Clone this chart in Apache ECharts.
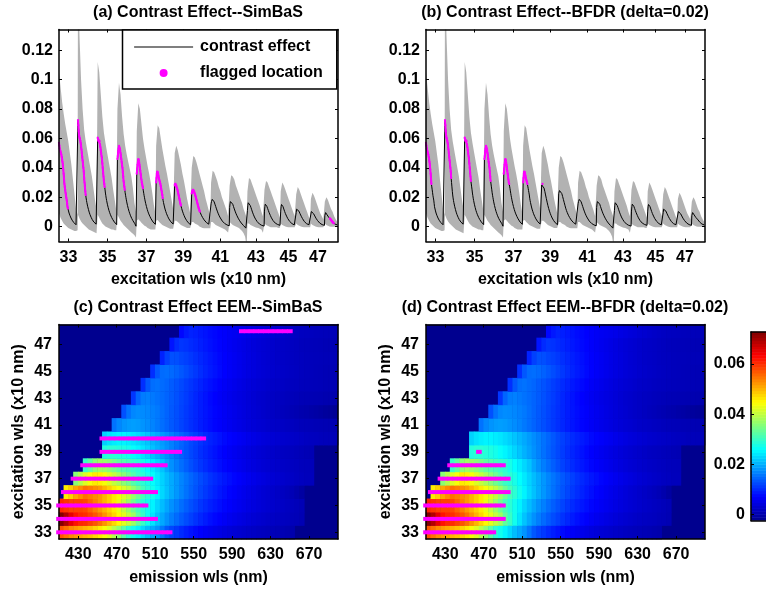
<!DOCTYPE html>
<html><head><meta charset="utf-8">
<style>html,body{margin:0;padding:0;background:#fff;overflow:hidden}#c{width:766px;height:589px}</style>
<script src="https://cdn.jsdelivr.net/npm/echarts@6/dist/echarts.min.js"></script>
</head><body><div id="c"></div>
<script>
// Excitation rows (x10 nm) and first emission wavelength of each row (nm); samples are 5 nm apart.
const excitation=[33,34,35,36,37,38,39,40,41,42,43,44,45,46,47,48];
const rowStartNm=[410,410,410,415,425,435,455,455,465,475,485,495,505,515,525,535];
// Contrast effect per row
const row33=[.057,.055,.053,.052,.051,.05,.049,.0475,.046,.044,.042,.039,.036,.0325,.029,.027,.025,.023,.021,.0195,.018,.0158,.0135,.0122,.0112,.0102,.0092,.0084,.0077,.007,.0064,.0058,.0053,.0048,.0043,.0039,.0035,.0031,.0028,.0025,.0022,.0019,.0016,.0014,.0012,.001,.0008,.0005,.0002];
const row34=[.0725,.069,.065,.062,.0605,.06,.0585,.057,.055,.0525,.05,.0475,.045,.0425,.04,.0375,.033,.03,.027,.024,.0215,.0195,.0178,.0163,.015,.0138,.0127,.0117,.0107,.0098,.009,.0082,.0075,.0069,.0063,.0057,.0052,.0047,.0043,.0039,.0035,.0031,.0028,.0025,.0022,.002,.0018,.0016,.0013,.0011,.0008];
const row35=[.0605,.0595,.0585,.0585,.0585,.058,.056,.054,.052,.05,.048,.046,.043,.04,.037,.034,.031,.029,.027,.025,.0228,.021,.0193,.0178,.0165,.0152,.014,.013,.012,.011,.0102,.0094,.0087,.008,.0074,.0068,.0062,.0057,.0052,.0047,.0043,.0039,.0035,.0031,.0028,.0025,.0022,.0019,.0016,.0013,.001];
const row36=[.046,.048,.051,.053,.055,.054,.053,.052,.05,.048,.046,.044,.042,.04,.037,.034,.031,.029,.027,.025,.023,.0213,.0197,.0182,.0168,.0155,.0143,.0132,.0122,.0112,.0103,.0095,.0087,.008,.0073,.0067,.0061,.0055,.005,.0045,.004,.0035,.0031,.0027,.0023,.0019,.0015,.001,.0002,-.0007];
const row37=[.036,.039,.042,.044,.046,.0455,.044,.042,.04,.038,.036,.034,.032,.03,.029,.0275,.026,.0243,.0226,.021,.0196,.0182,.0169,.0157,.0146,.0136,.0126,.0117,.0108,.01,.0093,.0086,.008,.0074,.0068,.0062,.0057,.0052,.0047,.0043,.0039,.0035,.0031,.0028,.0025,.0022,.0019,.0017,.0015,.0015];
const row38=[.03,.033,.036,.0374,.037,.036,.0345,.033,.032,.031,.03,.029,.0275,.026,.0245,.023,.0215,.0193,.0178,.0164,.0152,.014,.0129,.0119,.011,.0102,.0094,.0087,.008,.0074,.0068,.0062,.0057,.0052,.0047,.0043,.0039,.0035,.0032,.0029,.0026,.0023,.0021,.0019,.0017,.0015,.0014,.0013];
const row39=[.0283,.029,.029,.0285,.028,.0272,.0262,.0252,.024,.0228,.0215,.0202,.019,.0178,.0166,.0154,.0143,.0133,.0123,.0114,.0105,.0097,.009,.0083,.0076,.007,.0064,.0058,.0053,.0048,.0044,.004,.0036,.0032,.0029,.0026,.0023,.002,.0018,.0016,.0014,.0012,.001,.0008];
const row40=[.0225,.0238,.0245,.025,.025,.0245,.024,.0232,.0224,.0215,.0205,.0195,.0185,.0175,.0165,.0155,.0145,.0135,.0125,.0117,.0109,.0102,.0095,.0089,.0083,.0077,.0072,.0067,.0062,.0058,.0053,.0049,.0045,.0041,.0038,.0035,.0032,.0029,.0027,.0025,.0023,.0021,.0019,.0017,.0016,.0014,.0013,.0012,.0011,.001];
const row41=[.0155,.017,.018,.0185,.0187,.0185,.018,.0175,.0168,.016,.0152,.0144,.0136,.0128,.012,.0112,.0105,.0098,.0091,.0085,.0079,.0073,.0068,.0063,.0058,.0053,.0049,.0045,.0041,.0037,.0034,.0031,.0028,.0025,.0023,.0021,.0019,.0017,.0015,.0013,.0012,.0011,.001,.0009,.0008,.0007,.0006,.0005];
const row42=[.013,.0155,.017,.0175,.0173,.017,.0165,.016,.0152,.0144,.0136,.0128,.012,.0112,.0105,.0098,.0091,.0085,.0079,.0073,.0068,.0062,.0057,.0052,.0047,.0043,.0039,.0035,.0031,.0027,.0024,.0021,.0018,.0015,.0012,.0009,.0006,.0003,.0001,-.0002,-.0005,-.0008,-.0011,-.0014,-.0017,-.002];
const row43=[.011,.0145,.0162,.0165,.016,.0155,.015,.0144,.0137,.013,.0122,.0114,.0106,.0098,.0091,.0084,.0077,.0071,.0065,.006,.0055,.005,.0046,.0042,.0038,.0034,.003,.0027,.0024,.0021,.0019,.0017,.0015,.0013,.0011,.001,.0009,.0008,.0007,.0006,.0005,.0004,.0003,.0003];
const row44=[.0105,.0135,.0152,.0155,.015,.0145,.0138,.0131,.0124,.0116,.0109,.0102,.0095,.0088,.0082,.0076,.007,.0064,.0059,.0054,.0049,.0045,.0041,.0037,.0034,.0031,.0028,.0025,.0023,.0021,.0019,.0017,.0016,.0015,.0014,.0013,.0012,.0011,.001,.0009,.0008,.0008];
const row45=[.0105,.0135,.015,.0152,.0148,.0142,.0135,.0127,.0119,.0111,.0103,.0096,.0089,.0083,.0077,.0071,.0065,.006,.0055,.005,.0046,.0042,.0038,.0035,.0032,.0029,.0026,.0024,.0022,.002,.0018,.0016,.0015,.0014,.0012,.0011,.001,.0009,.0008,.0008];
const row46=[.0095,.0118,.013,.0128,.0122,.0117,.0111,.0105,.0099,.0093,.0087,.0081,.0075,.007,.0065,.006,.0055,.005,.0046,.0042,.0038,.0034,.0031,.0028,.0025,.0023,.0021,.0019,.0017,.0016,.0015,.0014,.0013,.0012,.0011,.0011,.001,.001];
const row47=[.0085,.0102,.011,.0107,.0102,.0097,.0092,.0087,.0082,.0077,.0072,.0067,.0062,.0057,.0053,.0049,.0045,.0041,.0037,.0034,.0031,.0028,.0025,.0023,.0021,.0019,.0017,.0015,.0014,.0013,.0012,.0011,.001,.0009,.0008,.0008];
const row48=[.0075,.0088,.0095,.0092,.0088,.0084,.0079,.0075,.0071,.0067,.0063,.006,.0057,.0055,.0052,.0048,.0045,.0041,.0038,.0034,.0031,.0028,.0025,.0022,.002,.0018,.0017,.0016,.0015,.0014,.0013,.0012,.0011,.001];
// Grey band limits, read at every 4th sample of each row
const upper33=[.105,.095,.085,.077,.07,.064,.058,.05,.042,.032,.022,.012,.008];
const upper34=[.17,.13,.1,.08,.066,.058,.052,.046,.04,.034,.026,.018,.012];
const upper35=[.112,.105,.09,.075,.064,.057,.051,.045,.039,.033,.025,.018,.011];
const upper36=[.08,.098,.09,.075,.063,.055,.049,.044,.039,.034,.026,.016,.01];
const upper37=[.065,.084,.08,.07,.06,.053,.047,.041,.036,.03,.023,.015,.009];
const upper38=[.055,.069,.067,.06,.053,.047,.041,.036,.03,.024,.018,.012];
const upper39=[.05,.055,.052,.047,.042,.036,.031,.025,.019,.014,.009];
const upper40=[.04,.048,.047,.044,.04,.036,.032,.028,.024,.019,.015,.011,.008];
const upper41=[.03,.038,.037,.034,.031,.027,.024,.02,.017,.014,.011,.007];
const upper42=[.028,.035,.034,.032,.028,.025,.022,.019,.016,.012,.009,.006];
const upper43=[.024,.033,.032,.029,.026,.023,.02,.017,.014,.01,.007];
const upper44=[.025,.031,.03,.027,.024,.021,.018,.015,.012,.009,.006];
const upper45=[.024,.03,.028,.025,.022,.019,.016,.013,.01,.007];
const upper46=[.022,.027,.025,.022,.019,.016,.013,.01,.007,.005];
const upper47=[.019,.023,.021,.018,.015,.012,.009,.007,.005];
const upper48=[.017,.02,.018,.015,.012,.01,.007,.005,.003];
const lower33=[.009,.006,.004,.002,.001,0,-.001,-.0015,-.002,-.0025,-.003,-.003,-.0025];
const lower34=[.008,.0055,.0035,.002,.001,0,-.001,-.002,-.0025,-.003,-.0035,-.004,-.0045];
const lower35=[.008,.006,.004,.002,.001,0,-.0005,-.001,-.0015,-.002,-.002,-.0025,-.0025];
const lower36=[.008,.006,.004,.0025,.001,0,-.001,-.002,-.003,-.004,-.005,-.006,-.0075];
const lower37=[.004,.005,.004,.0025,.0015,.0005,0,-.001,-.0015,-.002,-.002,-.002,-.002];
const lower38=[.004,.0045,.003,.002,.001,.0005,0,-.0005,-.001,-.0015,-.0015,-.0015];
const lower39=[.004,.004,.003,.002,.001,.0005,0,-.0005,-.001,-.001,-.001];
const lower40=[.003,.003,.002,.0015,.001,0,-.0005,-.001,-.0012,-.0012,-.0012,-.0012,-.0012];
const lower41=[.003,.003,.002,.001,.0005,0,-.0005,-.001,-.0015,-.002,-.003,-.004];
const lower42=[.003,.002,.001,.0005,0,-.0005,-.001,-.002,-.003,-.0045,-.007,-.014];
const lower43=[.002,.002,.001,.0005,0,-.0005,-.0008,-.001,-.0015,-.002,-.0043];
const lower44=[.002,.001,.0005,0,-.0005,-.0005,-.0005,-.0005,-.0005,-.001,-.0008];
const lower45=[.002,.001,.0005,0,-.0003,-.0005,-.0005,-.0005,-.0005,-.0005];
const lower46=[.002,.001,.0005,0,-.0003,-.0005,-.0005,-.0005,-.0005,-.0005];
const lower47=[.002,.001,.0005,0,-.0003,-.0005,-.0005,-.0005,-.0005];
const lower48=[.002,.001,.0005,0,-.0002,-.0002,-.0002,-.0002,-.0002];
// Flagged sample ranges per row [first,last]; null = none
const flagSimBaS=[[0,23],[0,20],[0,18],[0,19],[0,16],[0,17],[0,16],[0,21],null,null,null,null,null,null,null,[13,23]];
const flagBFDR=[[0,14],[0,16],[0,16],[0,16],[0,14],[0,11],[2,2],null,null,null,null,null,null,null,null,null];
// Tick labels
const excTickLabels=[33,35,37,39,41,43,45,47];
const contrastTicks=[0,.02,.04,.06,.08,.1,.12];
const emissionTicks=[430,470,510,550,590,630,670];
const colorbarTicks=[0,.02,.04,.06];
const titles=['(a) Contrast Effect--SimBaS','(b) Contrast Effect--BFDR (delta=0.02)','(c) Contrast Effect EEM--SimBaS','(d) Contrast Effect EEM--BFDR (delta=0.02)'];
const jet=['#00008f','#0000ff','#007fff','#00ffff','#7fff7f','#ffff00','#ff7f00','#ff0000','#7f0000'];
const climMin=-.0023, climMax=.0727;

const rows=[row33,row34,row35,row36,row37,row38,row39,row40,row41,row42,row43,row44,row45,row46,row47,row48];
const uppers=[upper33,upper34,upper35,upper36,upper37,upper38,upper39,upper40,upper41,upper42,upper43,upper44,upper45,upper46,upper47,upper48];
const lowers=[lower33,lower34,lower35,lower36,lower37,lower38,lower39,lower40,lower41,lower42,lower43,lower44,lower45,lower46,lower47,lower48];
const rowOffset=[];let total=0;rows.forEach(r=>{rowOffset.push(total);total+=r.length;});

const FONT='"Liberation Sans",Arial,sans-serif';
const lineData=[],bandUp=[],bandLow=[];
rows.forEach((r,i)=>{
  r.forEach((v,k)=>lineData.push([rowOffset[i]+k,v]));
  uppers[i].forEach((v,k)=>bandUp.push([rowOffset[i]+4*k,v]));
  lowers[i].forEach((v,k)=>bandLow.push([rowOffset[i]+4*k,v]));
});
const midTick=excTickLabels.map(e=>{const i=excitation.indexOf(e);return rowOffset[i]+rows[i].length/2;});
const tickLabelOf=v=>{const j=midTick.indexOf(v);return j<0?'':String(excTickLabels[j]);};

function flaggedLine(flags){const out=[];flags.forEach((f,i)=>{if(f)for(let k=f[0];k<=f[1];k++)out.push([rowOffset[i]+k,rows[i][k]]);});return out;}
function flaggedTrace(flags){const out=[];flags.forEach((f,i)=>{if(f){for(let k=f[0];k<=f[1];k++)out.push([rowOffset[i]+k,rows[i][k]]);out.push([rowOffset[i]+f[1],null]);}});return out;}
function flaggedEEM(flags){const out=[];flags.forEach((f,i)=>{if(f)for(let k=f[0];k<=f[1];k++)out.push([rowStartNm[i]+5*k,excitation[i]]);});return out;}

const emissionCats=[];for(let nm=410;nm<700;nm+=5)emissionCats.push(nm);
const heatData=[];rows.forEach((r,i)=>r.forEach((v,k)=>{const c=emissionCats.indexOf(rowStartNm[i]+5*k);if(c>=0)heatData.push([c,i,v]);}));
const cbLevels=[];for(let i=0;i<64;i++)cbLevels.push(i);
const cbData=cbLevels.map(i=>[0,i,climMin+(i+.5)*(climMax-climMin)/64]);

const tick={show:true,inside:true,length:3,lineStyle:{color:'#000',width:1}};
const axLine={show:true,onZero:false,lineStyle:{color:'#000',width:1.5}};
const lab={fontFamily:FONT,fontWeight:'bold',fontSize:16,color:'#000'};
const nameSt={fontFamily:FONT,fontWeight:'bold',fontSize:16,color:'#000'};

const grids=[],xAxes=[],yAxes=[],series=[],titleList=[];
function valueAxis(gridIndex,position,min,max,ticks,opts){
  opts=opts||{};
  return Object.assign({type:'value',gridIndex,position,min,max,z:10,scale:true,splitLine:{show:false},axisLine:axLine,
    axisTick:Object.assign({},tick,{customValues:ticks}),
    axisLabel:opts.labels?Object.assign({},lab,{show:true,customValues:ticks,formatter:opts.labels,margin:opts.margin||6,hideOverlap:false}):{show:false}},opts.extra||{});
}
function addPanel(left,top,width,height,title,ymin,ymax,xmin,xmax,xticks,yticks,xfmt,yfmt,xname,yname,nameGapX,nameGapY,ymargin){
  const g=grids.length;
  grids.push({left,top,width,height,show:true,borderWidth:0,backgroundColor:'transparent'});
  titleList.push({text:title,padding:0,left:left+width/2-.5,top:top-24.5,textAlign:'center',textStyle:{fontFamily:FONT,fontWeight:'bold',fontSize:16,color:'#000'}});
  const xi=xAxes.length,yi=yAxes.length;
  xAxes.push(valueAxis(g,'bottom',xmin,xmax,xticks,{labels:xfmt,margin:8,extra:{name:xname,nameLocation:'middle',nameGap:nameGapX,nameTextStyle:nameSt}}));
  xAxes.push(valueAxis(g,'top',xmin,xmax,xticks));
  yAxes.push(valueAxis(g,'left',ymin,ymax,yticks,{labels:yfmt,margin:ymargin,extra:yname?{name:yname,nameLocation:'middle',nameRotate:90,nameGap:nameGapY,nameTextStyle:nameSt}:{}}));
  yAxes.push(valueAxis(g,'right',ymin,ymax,yticks));
  return {g,xi,yi};
}
function linePanel(left,title,flags){
  const p=addPanel(left,29.5,279,212,title,-.0102,.1342,0,total,midTick,contrastTicks,tickLabelOf,v=>String(v),'excitation wls (x10 nm)',null,30,0,6);
  series.push({type:'custom',name:'contrast band',xAxisIndex:p.xi,yAxisIndex:p.yi,clip:true,z:1,silent:true,data:[[0,0]],
    renderItem:(params,api)=>{
      const pts=bandUp.map(d=>api.coord(d)).concat(bandLow.slice().reverse().map(d=>api.coord(d)));
      return {type:'polygon',shape:{points:pts},style:{fill:'#b2b2b2',stroke:null}};
    }});
  series.push({type:'line',name:'contrast effect',xAxisIndex:p.xi,yAxisIndex:p.yi,data:lineData,showSymbol:false,symbol:'none',clip:true,z:3,lineStyle:{color:'#000',width:1},itemStyle:{color:'#000'}});
  series.push({type:'scatter',name:'flagged location',xAxisIndex:p.xi,yAxisIndex:p.yi,data:flaggedLine(flags),symbol:'circle',symbolSize:2.2,z:5,itemStyle:{color:'#ff00ff',opacity:1}});
  series.push({type:'line',name:'flagged trace',xAxisIndex:p.xi,yAxisIndex:p.yi,data:flaggedTrace(flags),showSymbol:false,symbol:'none',connectNulls:false,z:4,lineStyle:{color:'#ff00ff',width:2}});
}
function eemPanel(left,title,flags,yGap){
  const p=addPanel(left,324.5,279,214.5,title,32.5,48.5,410,700,emissionTicks,excTickLabels,v=>String(v),v=>String(v),'emission wls (nm)','excitation wls (x10 nm)',30.5,yGap,7);
  grids[p.g].backgroundColor='#00008f';
  const cx=xAxes.length,cy=yAxes.length;
  xAxes.push({type:'category',gridIndex:p.g,show:false,data:emissionCats});
  yAxes.push({type:'category',gridIndex:p.g,show:false,data:excitation});
  series.push({type:'heatmap',name:title,xAxisIndex:cx,yAxisIndex:cy,data:heatData,z:1,progressive:0,itemStyle:{borderWidth:0}});
  series.push({type:'scatter',name:'flagged',xAxisIndex:p.xi,yAxisIndex:p.yi,data:flaggedEEM(flags),symbol:'rect',symbolSize:[5.6,4],clip:false,z:20,itemStyle:{color:'#ff00ff',opacity:1}});
}
linePanel(59,titles[0],flagSimBaS);
linePanel(426,titles[1],flagBFDR);
eemPanel(59,titles[2],flagSimBaS,32);
eemPanel(426,titles[3],flagBFDR,32);

// colour bar
const cbG=grids.length;
grids.push({left:751,top:332,width:22,height:188.5,show:false});
const cbx=xAxes.length,cby=yAxes.length;
xAxes.push({type:'category',gridIndex:cbG,show:false,data:['bar']});
yAxes.push({type:'category',gridIndex:cbG,show:false,data:cbLevels});
series.push({type:'heatmap',name:'colour bar',xAxisIndex:cbx,yAxisIndex:cby,data:cbData,z:1,progressive:0});
xAxes.push(Object.assign(valueAxis(cbG,'top',0,1,[]),{axisTick:{show:false}}));
xAxes.push(Object.assign(valueAxis(cbG,'bottom',0,1,[]),{axisTick:{show:false}}));
yAxes.push(valueAxis(cbG,'left',climMin,climMax,colorbarTicks,{labels:v=>String(v),margin:6}));

const heatIdx=series.map((s,i)=>s.type==='heatmap'?i:-1).filter(i=>i>=0);
const chart=echarts.init(document.getElementById('c'),null,{renderer:'canvas'});
chart.setOption({
  animation:false,backgroundColor:'#fff',
  textStyle:{fontFamily:FONT},
  title:titleList,grid:grids,xAxis:xAxes,yAxis:yAxes,series,
  visualMap:{show:false,type:'continuous',min:climMin,max:climMax,dimension:2,seriesIndex:heatIdx,inRange:{color:jet}},
  legend:{show:true,data:[{name:'contrast effect',itemStyle:{color:'transparent',opacity:0,borderWidth:0}},{name:'flagged location'}],orient:'vertical',left:122.5,top:30,itemWidth:59,itemHeight:8,itemGap:10,
    padding:[9,14,8,11],backgroundColor:'#fff',borderColor:'#000',borderWidth:1.5,selectedMode:false,z:30,
    lineStyle:{width:1.2,color:'#000'},
    textStyle:{fontFamily:FONT,fontWeight:'bold',fontSize:16,color:'#000',padding:[0,0,0,2]}}
});
</script></body></html>
